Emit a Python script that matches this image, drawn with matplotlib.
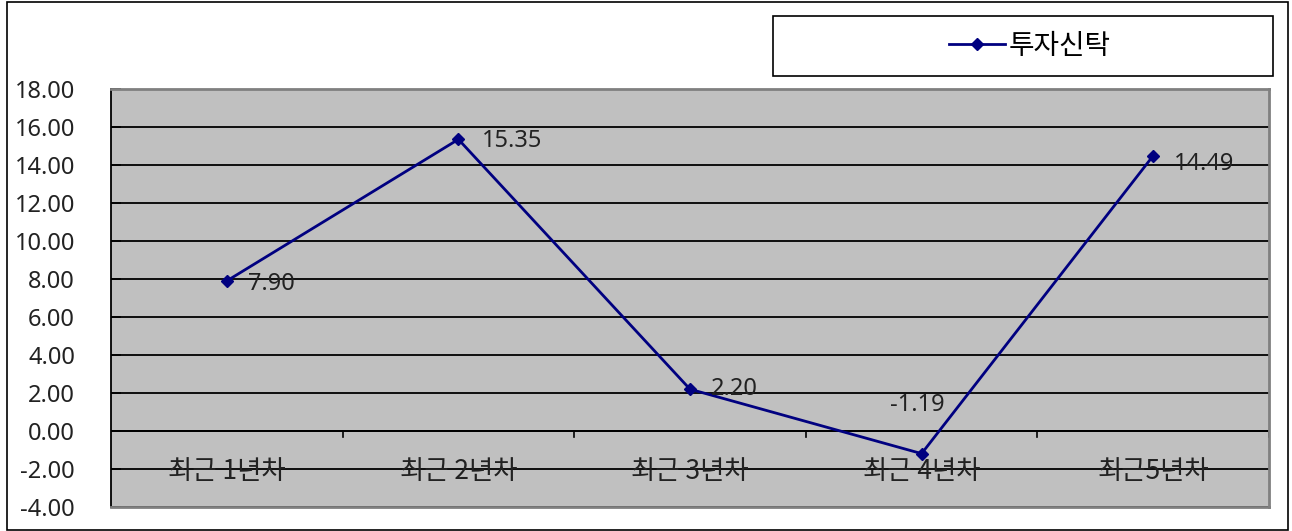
import matplotlib.pyplot as plt
from matplotlib.patches import Rectangle
from matplotlib.lines import Line2D

plt.rcParams['font.family'] = ['Noto Sans CJK KR', 'DejaVu Sans']
num_font = ['Noto Sans', 'Noto Sans CJK KR']

categories = ['최근 1년차', '최근 2년차', '최근 3년차', '최근 4년차', '최근5년차']
values = [7.90, 15.35, 2.20, -1.19, 14.49]
series_name = '투자신탁'
y_ticks = [-4, -2, 0, 2, 4, 6, 8, 10, 12, 14, 16, 18]

W, H = 1292, 531
fig = plt.figure(figsize=(W / 100, H / 100), dpi=100)
fig.patch.set_facecolor('white')

# outer chart border
fig.patches.append(Rectangle((7 / W, 1 / H), 1281 / W, 528 / H, transform=fig.transFigure,
                             fill=False, edgecolor='black', linewidth=1.2))

ax = fig.add_axes([111 / W, 24 / H, 1158 / W, 418 / H])
ax.set_facecolor('#C0C0C0')

x = list(range(len(categories)))
ax.plot(x, values, color='#000080', linewidth=2, marker='D', markersize=6,
        markerfacecolor='#000080', markeredgecolor='#000080', zorder=4)

ax.set_xlim(-0.5, len(categories) - 0.5)
ax.set_ylim(-4, 18)
ax.set_yticks(y_ticks)
ax.set_yticklabels([f'{v:.2f}' for v in y_ticks], fontsize=17, color='#222222', family=num_font)
ax.tick_params(axis='y', direction='in', length=7, width=1.2, color='black', pad=26)
ax.set_xticks([])

ax.yaxis.grid(True, color='black', linewidth=1.3)
ax.set_axisbelow(True)

for side in ['top', 'right', 'bottom']:
    ax.spines[side].set_color('#808080')
    ax.spines[side].set_linewidth(2)
ax.spines['left'].set_color('black')
ax.spines['left'].set_linewidth(1.3)

# category axis at zero with boundary ticks
ax.axhline(0, color='black', linewidth=1.3, zorder=2)
for i in range(len(categories)):
    ax.plot([i + 0.5, i + 0.5], [0, -0.3], color='black', linewidth=1.2, zorder=2)
    ax.text(i, -2.15, categories[i], ha='center', va='center', fontsize=19, color='#222222')

# data labels
offsets = [(15, -2), (17, -1), (15, 0), (-3, 35), (15, -6)]
for i, v in enumerate(values):
    dx, dy = offsets[i]
    ha = 'center' if dy > 20 else 'left'
    ax.annotate(f'{v:.2f}', (i, v), xytext=(dx, dy), textcoords='offset points',
                ha=ha, va='center', fontsize=17, color='#222222', family=num_font, zorder=5)

# legend box
fig.patches.append(Rectangle((773 / W, 1 - 76 / H), 500 / W, 60 / H, transform=fig.transFigure,
                             fill=True, facecolor='white', edgecolor='black', linewidth=1.2))
handle = Line2D([], [], color='#000080', linewidth=2, marker='D', markersize=6)
fig.legend([handle], [series_name], loc='center', bbox_to_anchor=(1030 / W, 1 - 46 / H),
           frameon=False, fontsize=20, handlelength=2.0, handletextpad=0.15)

fig.savefig('out.png', dpi=100)
